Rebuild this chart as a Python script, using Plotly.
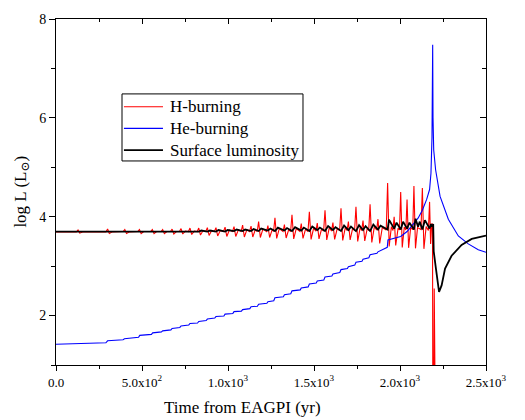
import plotly.graph_objects as go

# ---------------- data ----------------
h_t = [0, 118, 128, 138, 155, 290, 300, 310, 325, 390, 400, 410, 425, 475, 485, 495, 510,
       550, 560, 570, 585, 611, 620, 630, 645, 666, 675, 685, 700, 718, 727, 737, 752,
       770, 779, 789, 804, 821, 830, 840, 855, 871, 880, 890, 905, 921, 930, 940, 955,
       974, 983, 993, 1008, 1026, 1035, 1045, 1060, 1076, 1085, 1095, 1110, 1125, 1134, 1144, 1159,
       1170, 1178, 1188, 1203, 1224, 1232, 1242, 1257, 1265, 1273, 1283, 1298, 1320, 1328, 1338, 1353,
       1364, 1372, 1382, 1397, 1418, 1426, 1436, 1451, 1465, 1473, 1483, 1498, 1511, 1519, 1529, 1544,
       1556, 1564, 1574, 1589, 1602, 1610, 1620, 1635, 1649, 1657, 1667, 1682, 1692, 1700, 1710, 1725,
       1736, 1744, 1754, 1769, 1777, 1785, 1795, 1810, 1818, 1826, 1836, 1851, 1864, 1872, 1882, 1897,
       1920, 1928, 1937, 1950, 1959, 1966, 1975, 1989, 1997, 2004, 2013, 2025, 2034, 2041, 2050, 2062,
       2074, 2081, 2090, 2102, 2122, 2130, 2139, 2152, 2165, 2172, 2178, 2184,
       2189, 2192, 2196, 2199, 2202, 2210]
h_y = [3.69, 3.69, 3.73, 3.67, 3.69, 3.69, 3.75, 3.66, 3.69, 3.70, 3.74, 3.66, 3.69, 3.70, 3.74, 3.66, 3.70,
       3.70, 3.74, 3.66, 3.70, 3.70, 3.74, 3.66, 3.70, 3.70, 3.75, 3.65, 3.70, 3.70, 3.76, 3.65, 3.71,
       3.70, 3.77, 3.64, 3.71, 3.70, 3.77, 3.63, 3.72, 3.70, 3.78, 3.62, 3.72, 3.70, 3.78, 3.61, 3.72,
       3.70, 3.79, 3.60, 3.73, 3.70, 3.80, 3.60, 3.73, 3.70, 3.83, 3.59, 3.74, 3.70, 3.81, 3.59, 3.74,
       3.70, 3.90, 3.58, 3.75, 3.70, 3.82, 3.58, 3.74, 3.70, 3.98, 3.56, 3.76, 3.70, 3.84, 3.57, 3.74,
       3.70, 4.04, 3.55, 3.76, 3.70, 3.86, 3.56, 3.75, 3.70, 4.10, 3.54, 3.77, 3.71, 3.87, 3.55, 3.75,
       3.71, 4.13, 3.53, 3.78, 3.71, 3.88, 3.54, 3.76, 3.72, 4.17, 3.52, 3.78, 3.72, 3.90, 3.53, 3.77,
       3.72, 4.20, 3.50, 3.79, 3.72, 3.92, 3.51, 3.77, 3.72, 4.25, 3.48, 3.80, 3.73, 3.95, 3.46, 3.78,
       3.73, 4.68, 3.40, 3.80, 3.72, 4.00, 3.42, 3.77, 3.73, 4.50, 3.38, 3.79, 3.73, 4.35, 3.37, 3.78,
       3.74, 4.62, 3.36, 3.78, 3.74, 4.58, 3.35, 3.80, 3.72, 4.30, 3.45, 3.85,
       3.85, -2.0, -2.0, 2.55, -2.0, -2.0]

he_t = [0, 150, 290, 300, 390, 398, 480, 487, 555, 562, 613, 620, 668, 675, 720, 727, 772, 779,
        823, 830, 873, 880, 923, 930, 976, 983, 1028, 1035, 1078, 1085, 1127, 1134, 1171, 1178,
        1226, 1232, 1266, 1273, 1322, 1328, 1365, 1372, 1420, 1426, 1466, 1473, 1513, 1519,
        1557, 1564, 1604, 1610, 1650, 1657, 1694, 1700, 1737, 1744, 1779, 1785, 1819, 1826,
        1866, 1872, 1926, 1930, 1966, 2004, 2041, 2081, 2105, 2130, 2155, 2172, 2180, 2186,
        2190, 2192, 2196, 2207, 2233, 2281, 2339, 2397, 2455, 2500]
he_y = [1.42, 1.43, 1.45, 1.49, 1.51, 1.53, 1.56, 1.60, 1.62, 1.65, 1.67, 1.69, 1.71, 1.74, 1.76, 1.79, 1.81, 1.84,
        1.85, 1.88, 1.90, 1.93, 1.95, 1.98, 1.99, 2.03, 2.04, 2.08, 2.09, 2.12, 2.14, 2.18, 2.19, 2.23,
        2.25, 2.28, 2.30, 2.36, 2.38, 2.42, 2.44, 2.50, 2.52, 2.56, 2.58, 2.64, 2.66, 2.70,
        2.72, 2.78, 2.80, 2.84, 2.87, 2.93, 2.95, 2.99, 3.02, 3.08, 3.10, 3.14, 3.17, 3.23,
        3.26, 3.29, 3.38, 3.53, 3.56, 3.60, 3.70, 3.86, 3.97, 4.13, 4.35, 4.55, 4.88, 5.60,
        7.48, 6.00, 5.35, 4.95, 4.41, 3.95, 3.61, 3.45, 3.33, 3.28]

s_t = [0, 800, 830, 845, 880, 895, 930, 945, 983, 998, 1035, 1050, 1085, 1100, 1134, 1149,
       1178, 1193, 1232, 1247, 1273, 1290, 1328, 1343, 1372, 1390, 1426, 1441, 1473, 1490,
       1519, 1534, 1564, 1582, 1610, 1625, 1657, 1675, 1700, 1715, 1744, 1762, 1785, 1800,
       1826, 1845, 1872, 1887, 1928, 1936, 1960, 1966, 1980, 2004, 2018, 2041, 2055, 2081,
       2090, 2105, 2115, 2130, 2145, 2172, 2180, 2186, 2193, 2196, 2207, 2215, 2227, 2242,
       2262, 2300, 2358, 2417, 2500]
s_y = [3.70, 3.71, 3.70, 3.72, 3.70, 3.72, 3.70, 3.73, 3.70, 3.73, 3.71, 3.74, 3.71, 3.74, 3.71, 3.75,
       3.71, 3.76, 3.72, 3.76, 3.71, 3.78, 3.72, 3.77, 3.71, 3.79, 3.72, 3.78, 3.71, 3.80,
       3.73, 3.78, 3.71, 3.81, 3.73, 3.79, 3.71, 3.82, 3.73, 3.80, 3.71, 3.83, 3.73, 3.81,
       3.71, 3.84, 3.74, 3.82, 3.74, 3.94, 3.80, 3.76, 3.88, 3.74, 3.90, 3.76, 3.88, 3.74,
       3.96, 3.80, 3.90, 3.74, 3.93, 3.76, 3.85, 3.80, 3.85, 3.30, 3.00, 2.75, 2.48, 2.61,
       2.95, 3.21, 3.43, 3.55, 3.62]

series_names = ["H-burning", "He-burning", "Surface luminosity"]
series_colors = ["#ff0000", "#0000ff", "#000000"]
series_widths = [1.1, 1.1, 1.8]

x_tickvals = [0, 500, 1000, 1500, 2000, 2500]
x_ticktext = ["0.0", "5.0x10<sup>2</sup>", "1.0x10<sup>3</sup>", "1.5x10<sup>3</sup>",
              "2.0x10<sup>3</sup>", "2.5x10<sup>3</sup>"]
y_tickvals = [2, 4, 6, 8]

FONT = "Times New Roman, Liberation Serif, Tinos, DejaVu Serif, serif"

fig = go.Figure()
for (xs, ys), nm, col, w in zip([(h_t, h_y), (he_t, he_y), (s_t, s_y)],
                                series_names, series_colors, series_widths):
    fig.add_trace(go.Scatter(x=xs, y=ys, mode="lines", name=nm,
                             line=dict(color=col, width=w), showlegend=False))
fig.add_trace(go.Scatter(x=[], y=[], xaxis="x2", yaxis="y2", showlegend=False, hoverinfo="skip"))

axis_common = dict(showline=True, linecolor="black", linewidth=1, showgrid=False, zeroline=False)

fig.update_layout(
    width=525, height=420,
    margin=dict(l=56, r=39, t=14, b=55),
    paper_bgcolor="white", plot_bgcolor="white",
    font=dict(family=FONT, size=13, color="black"),
    showlegend=False,
    xaxis=dict(range=[0, 2500], tickvals=x_tickvals, ticktext=x_ticktext,
               ticks="outside", ticklen=5, tickcolor="black", tickwidth=1,
               minor=dict(ticks="outside", ticklen=3, tickcolor="black", dtick=250, tick0=0),
               tickfont=dict(family=FONT, size=13), **axis_common),
    yaxis=dict(range=[1, 8], tickvals=y_tickvals,
               ticks="outside", ticklen=6, tickcolor="black", tickwidth=1,
               minor=dict(ticks="outside", ticklen=4, tickcolor="black", dtick=1, tick0=1),
               tickfont=dict(family=FONT, size=14), **axis_common),
    xaxis2=dict(range=[0, 2500], overlaying="x", side="top", anchor="y", tickvals=x_tickvals,
                showticklabels=False, ticks="inside", ticklen=5, tickcolor="black",
                minor=dict(ticks="inside", ticklen=3, tickcolor="black", dtick=250, tick0=0),
                **axis_common),
    yaxis2=dict(range=[1, 8], overlaying="y", side="right", anchor="x", tickvals=y_tickvals,
                showticklabels=False, ticks="inside", ticklen=6, tickcolor="black",
                minor=dict(ticks="inside", ticklen=4, tickcolor="black", dtick=1, tick0=1),
                **axis_common),
)

# legend box drawn in paper coordinates
fig.add_shape(type="rect", xref="paper", yref="paper", x0=0.1535, x1=0.5744, y0=0.5897, y1=0.7835,
              line=dict(color="black", width=1), fillcolor="white", layer="above")
row_y = [0.7464, 0.6838, 0.6211]
for nm, col, w, yy in zip(series_names, series_colors, series_widths, row_y):
    fig.add_shape(type="line", xref="paper", yref="paper", x0=0.158, x1=0.2488, y0=yy, y1=yy,
                  line=dict(color=col, width=w), layer="above")
    fig.add_annotation(text=nm, xref="paper", yref="paper", x=0.2605, y=yy,
                       xanchor="left", yanchor="middle", showarrow=False,
                       font=dict(family=FONT, size=17))

fig.add_annotation(text="Time from EAGPI (yr)", xref="paper", yref="paper",
                   x=0.433, y=-0.123, xanchor="center", yanchor="middle",
                   showarrow=False, font=dict(family=FONT, size=17))
fig.add_annotation(text="log L (L<sub>⊙</sub>)", xref="paper", yref="paper",
                   x=-0.08, y=0.5, xanchor="center", yanchor="middle", textangle=-90,
                   showarrow=False, font=dict(family=FONT, size=17))

fig.write_html("out.html")
